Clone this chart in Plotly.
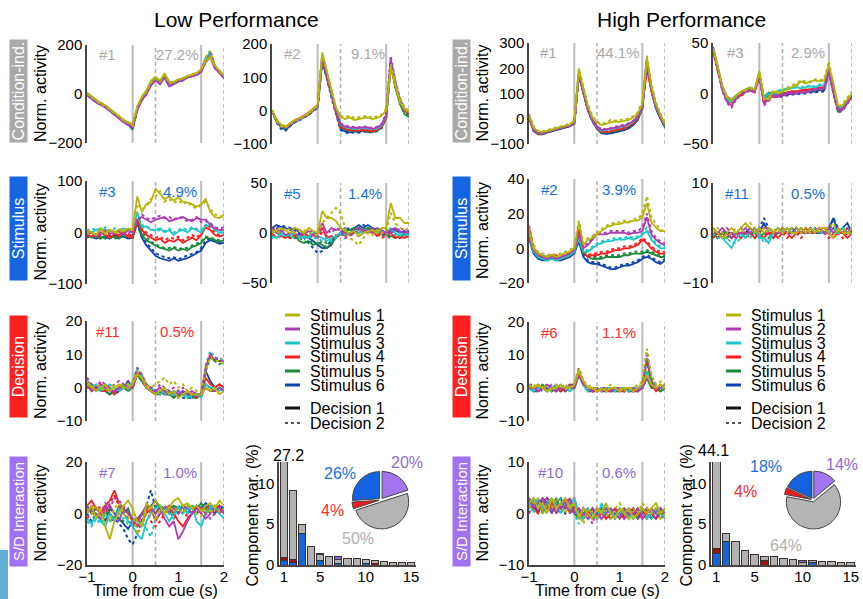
import plotly.graph_objects as go

W, H = 863, 599
FONT = "Liberation Sans, Arial, sans-serif"

# ---------------- data ----------------
TIME = [-1.0, -0.9, -0.8, -0.7, -0.6, -0.5, -0.4, -0.3, -0.2, -0.1, 0.0,
        0.1, 0.2, 0.3, 0.4, 0.5, 0.6, 0.7, 0.8, 0.9, 1.0,
        1.1, 1.2, 1.3, 1.4, 1.5, 1.6, 1.7, 1.8, 1.9, 2.0]
STIM_NAMES = ["Stimulus 1", "Stimulus 2", "Stimulus 3", "Stimulus 4", "Stimulus 5", "Stimulus 6"]
DEC_NAMES = ["Decision 1", "Decision 2"]
# each panel: rows = S1D1, S1D2, S2D1, S2D2, ... S6D1, S6D2

LP_COND_1 = [
 [5,-10,-25,-38,-45,-60,-78,-90,-105,-118,-125,-50,-10,15,55,70,55,85,50,50,60,62,72,78,85,100,135,150,115,95,75],
 [0,-12,-28,-42,-52,-62,-82,-92,-108,-115,-128,-55,-15,10,45,62,50,78,45,48,58,65,75,80,88,98,150,175,120,90,72],
 [-5,-20,-35,-45,-55,-70,-85,-100,-115,-125,-135,-65,-25,0,35,55,40,65,30,40,50,55,68,72,78,90,130,150,105,85,65],
 [0,-18,-32,-40,-48,-68,-78,-98,-112,-122,-140,-62,-22,2,38,58,42,70,35,42,52,58,70,74,82,96,145,170,112,88,68],
 [2,-15,-30,-42,-50,-63,-80,-96,-110,-122,-132,-58,-18,8,42,60,46,72,42,46,56,60,70,76,80,94,142,165,110,90,70],
 [-2,-16,-28,-38,-52,-66,-82,-94,-112,-120,-130,-62,-20,4,40,58,44,74,38,44,54,62,72,75,82,96,148,178,115,92,72],
 [0,-14,-30,-40,-50,-64,-80,-95,-108,-118,-128,-60,-20,6,38,58,46,72,40,44,56,60,70,74,80,94,138,158,108,88,68],
 [3,-12,-27,-41,-53,-65,-79,-93,-110,-121,-131,-63,-23,3,41,61,47,76,41,46,57,61,71,76,81,97,141,162,111,89,71],
 [-3,-17,-33,-43,-51,-67,-83,-97,-113,-125,-145,-66,-24,1,37,57,43,71,37,43,53,57,69,73,79,93,137,157,107,87,67],
 [1,-16,-31,-39,-49,-66,-81,-99,-111,-123,-138,-61,-21,3,39,59,45,73,39,45,55,59,71,75,83,95,143,167,113,91,69],
 [4,-10,-28,-36,-48,-62,-76,-92,-106,-116,-126,-56,-16,9,43,63,48,77,43,47,58,63,73,77,84,98,144,164,114,94,74],
 [-4,-19,-34,-44,-54,-69,-84,-99,-114,-126,-136,-64,-24,-1,36,56,42,69,36,42,52,56,67,71,77,91,136,156,106,86,66],
]
LP_COND_2 = [
 [0,-28,-42,-48,-38,-28,-22,-15,-8,5,18,175,120,60,10,-20,-25,-20,-28,-25,-22,-20,-25,-22,-15,0,130,75,25,5,-5],
 [2,-32,-48,-52,-40,-30,-26,-17,-10,3,15,170,118,58,8,-15,-20,-15,-22,-20,-18,-15,-22,-18,-12,5,140,85,35,10,0],
 [0,-30,-45,-50,-42,-32,-25,-18,-12,2,12,160,108,48,-2,-40,-48,-50,-52,-52,-50,-50,-55,-50,-42,-12,155,85,32,5,-8],
 [-2,-28,-46,-52,-40,-30,-24,-16,-10,4,14,162,110,50,0,-38,-45,-48,-50,-50,-48,-48,-52,-48,-40,-8,165,90,38,8,-5],
 [0,-30,-44,-50,-40,-31,-26,-19,-11,1,12,165,112,50,0,-42,-50,-52,-55,-54,-52,-53,-56,-54,-45,-14,148,80,30,4,-6],
 [1,-31,-45,-49,-41,-29,-25,-17,-9,3,14,168,115,52,2,-40,-48,-50,-53,-52,-50,-52,-55,-52,-43,-12,152,82,32,6,-4],
 [2,-28,-44,-48,-38,-28,-22,-14,-6,6,16,160,105,45,-5,-48,-55,-58,-60,-60,-58,-60,-62,-58,-50,-18,140,75,28,0,-10],
 [0,-30,-46,-50,-40,-30,-24,-16,-8,4,14,163,108,48,-3,-45,-52,-55,-58,-57,-55,-58,-60,-56,-48,-15,145,78,30,2,-8],
 [0,-32,-47,-51,-42,-32,-27,-20,-12,0,10,158,105,46,-4,-50,-58,-60,-62,-62,-58,-62,-64,-60,-50,-20,135,70,20,-10,-20],
 [-1,-31,-46,-50,-41,-31,-26,-19,-11,1,12,160,107,47,-2,-48,-56,-58,-60,-60,-57,-60,-62,-58,-48,-18,140,72,24,-6,-15],
 [0,-33,-50,-58,-45,-34,-28,-20,-12,0,10,150,100,42,-6,-55,-62,-65,-62,-65,-60,-64,-62,-60,-50,-20,145,80,30,0,-10],
 [-2,-35,-55,-60,-46,-35,-29,-21,-13,-1,8,145,98,40,-8,-58,-65,-68,-65,-66,-62,-66,-64,-62,-52,-22,150,85,35,2,-8],
]
LP_STIM_3 = [
 [5,0,-5,8,-3,5,0,6,2,8,5,70,40,55,60,85,75,65,70,62,68,60,58,55,50,55,65,40,30,28,35],
 [0,-5,3,-2,6,0,5,-3,8,2,10,55,45,50,65,70,80,60,65,58,62,55,60,50,48,52,60,45,35,32,30],
 [-5,0,-8,-3,5,-2,0,3,-5,5,0,25,30,25,20,25,28,30,22,25,28,30,25,22,28,25,25,15,8,5,5],
 [0,-3,-5,2,-4,3,-2,0,5,-3,5,20,35,28,25,30,32,28,30,25,30,28,22,25,30,20,22,18,10,8,10],
 [5,0,5,8,3,5,0,5,8,5,0,40,10,12,5,5,8,0,5,-5,2,5,0,8,5,0,12,15,5,0,0],
 [3,8,5,5,10,2,8,5,3,8,5,35,15,10,8,2,5,3,8,0,5,8,5,10,8,5,15,18,8,5,2],
 [-5,-8,-3,0,-5,-10,-3,-5,0,-8,-10,25,5,-5,-10,-15,-12,-20,-15,-18,-12,-20,-15,-10,-15,-5,10,5,-5,-8,-5],
 [0,-3,-8,-5,2,-5,0,-8,-3,-5,-5,20,8,0,-5,-10,-8,-15,-10,-12,-8,-15,-10,-5,-10,0,15,10,0,-5,0],
 [-5,-10,-8,-12,-5,-10,-8,-12,-5,-8,-10,25,-5,-15,-20,-25,-30,-32,-35,-30,-35,-32,-35,-28,-25,-20,-10,-12,-15,-18,-15],
 [-8,-5,-10,-8,-12,-5,-10,-8,-10,-5,-8,20,0,-10,-18,-22,-28,-30,-30,-28,-32,-30,-30,-25,-22,-18,-8,-10,-12,-15,-12],
 [-5,-8,-12,-10,-8,-12,-5,-10,-8,-12,-10,20,-10,-25,-35,-45,-50,-52,-55,-50,-55,-52,-50,-45,-40,-35,-20,-15,-18,-22,-20],
 [-10,-5,-8,-12,-10,-8,-12,-8,-5,-10,-5,15,-8,-20,-30,-40,-45,-48,-50,-48,-52,-48,-45,-42,-38,-30,-15,-12,-15,-18,-22],
]
LP_STIM_5 = [
 [0,3,5,2,0,5,3,0,5,2,0,22,15,15,12,5,2,0,2,-3,0,2,3,0,5,5,30,15,15,10,10],
 [3,0,2,5,3,0,2,3,0,0,-3,10,15,20,25,20,5,-5,-8,-12,-5,0,-2,3,0,2,20,10,5,3,5],
 [5,0,3,-2,0,5,3,0,2,-3,0,10,0,5,3,5,0,-2,3,5,2,3,0,5,3,0,3,5,2,0,3],
 [0,5,2,3,5,0,-3,2,0,3,-5,5,3,0,5,2,-5,-3,0,2,3,0,5,2,0,3,0,2,5,3,0],
 [-3,-5,0,-3,-2,0,-5,-3,-5,0,-3,-5,-8,-5,-3,0,-2,0,3,0,2,3,0,3,2,0,5,0,-3,0,-2],
 [-5,-3,-5,0,-3,-5,-3,-5,-3,-5,-5,-8,-5,-8,-5,-2,0,-3,0,2,0,2,3,0,3,-2,3,-2,0,-3,0],
 [0,-5,-3,-5,0,-3,-5,0,-3,-2,0,5,-5,-3,-5,0,-3,0,2,0,3,0,2,-3,0,-2,0,-5,-3,-5,-3],
 [-3,-2,-5,-3,-5,-2,-3,-5,-2,-5,-3,0,-3,-5,-2,-3,0,-2,0,-3,0,3,0,0,-5,-3,-2,-3,-5,-3,-2],
 [0,3,0,-3,-5,-3,-8,-10,-8,-12,-10,-12,-15,-10,-5,0,2,3,5,3,5,3,5,2,0,-2,-3,-5,-3,-2,0],
 [2,0,-2,-5,-3,-5,-5,-8,-10,-8,-12,-8,-10,-8,-3,-2,0,2,3,5,2,5,3,3,-2,-3,-5,-3,-5,-3,-2],
 [5,8,6,5,3,5,0,-3,-5,-8,-12,-15,-15,-12,-3,0,5,3,5,8,5,8,5,3,2,0,2,3,0,2,0],
 [3,5,8,6,5,3,-2,-5,-10,-15,-20,-18,-12,-8,-3,-2,3,5,3,5,8,5,3,5,0,-2,3,5,2,0,2],
]
LP_DEC_11 = [
 [2,0,-1,0,1,-1,0,1,0,0,1,4,3,0,-1,-2,-1,0,-2,-1,-3,-2,-1,-2,-2,-2,0,-1,0,-2,-1],
 [1,0,1,0,-1,0,1,0,1,1,2,5,3,1,0,1,2,3,1,2,0,1,-1,0,-1,-1,5,9,8,8,7],
 [1,-1,0,1,0,-1,-1,0,1,0,0,5,3,0,-1,-1,0,-1,-2,-1,-2,-1,-2,-1,-2,-2,0,-1,-1,0,-1],
 [3,1,0,2,1,0,1,2,1,2,1,6,4,1,0,-1,1,0,-1,0,-1,0,-2,-1,-2,-2,6,10,9,8,8],
 [2,0,1,-1,0,1,0,-1,0,1,1,5,4,1,0,-1,-2,-1,-2,-2,-1,-2,-3,-2,-2,-3,1,0,0,-1,0],
 [1,1,-1,0,1,0,-1,0,1,0,2,6,3,0,-1,-1,0,-2,-1,-2,-1,-2,-2,-3,-2,-2,7,11,9,9,8],
 [2,-1,0,-1,-1,0,-2,0,1,0,1,5,3,0,-1,-2,-1,-2,-1,-2,-2,-1,-2,-2,-3,-2,3,1,0,1,0],
 [0,0,-1,1,0,-1,0,-1,0,1,0,4,3,1,0,-1,-1,-1,-2,-1,-2,-2,-1,-2,-2,-2,6,10,8,9,8],
 [1,-1,0,0,-1,-2,-1,0,0,-1,0,4,2,0,-1,-2,-2,-1,-2,-3,-2,-2,-2,-3,-3,-2,1,0,-1,0,-1],
 [2,0,0,-1,0,-1,-1,0,1,0,1,5,3,0,-1,-2,-1,-2,-2,-2,-3,-2,-3,-2,-3,-2,5,9,8,7,8],
 [1,0,-1,0,-1,-2,-1,-1,0,2,0,4,2,0,-1,-2,-1,-2,-2,-2,-2,-1,-2,-3,-2,-2,5,2,0,1,0],
 [2,1,0,-1,0,-1,-2,-1,0,0,1,5,3,0,-1,-1,-2,-1,-2,-3,-2,-3,-3,-3,-3,-2,6,10,8,8,8],
]
LP_SD_7 = [
 [0,3,-2,2,-5,-10,-3,0,3,5,2,-3,-5,4,2,5,3,0,2,5,6,3,4,2,3,1,3,4,2,5,3],
 [2,0,3,-2,0,-3,2,4,0,-2,0,-8,-5,0,3,-3,2,0,3,1,2,0,3,2,0,-1,2,0,3,1,2],
 [3,1,0,-2,2,3,0,-3,2,0,-2,-5,0,2,3,0,2,-2,-5,-3,-10,-7,-3,0,2,0,-2,0,3,2,0],
 [1,3,2,0,4,2,6,5,3,0,-2,-3,0,3,2,-2,0,3,1,2,0,3,2,0,1,3,0,-2,0,2,1],
 [-2,-4,0,-3,-5,0,-3,2,0,-3,-5,-8,-10,-3,0,2,3,0,-3,0,2,3,0,3,-3,-5,0,2,3,0,-2],
 [-3,-5,-2,-4,0,-3,-2,0,-2,-4,-3,-5,-3,-6,-9,-2,0,2,0,-2,3,0,2,0,2,3,0,3,2,0,1],
 [3,5,2,0,3,5,9,4,2,0,-3,-5,-3,0,2,-3,0,2,3,0,-3,-5,-2,0,3,2,0,3,2,0,2],
 [-2,0,3,2,0,4,7,3,0,-2,-5,-3,0,2,-3,-5,-3,0,2,-2,0,3,-2,0,2,0,3,2,0,3,0],
 [0,2,-2,0,3,0,-2,3,0,2,-3,-2,0,3,2,0,3,2,0,3,2,3,0,3,2,4,2,0,3,2,0],
 [2,0,3,-2,0,2,0,-2,-3,0,-2,-3,0,2,0,3,2,0,2,0,3,2,0,2,3,2,0,3,2,0,2],
 [3,0,2,0,-3,2,0,-2,-4,-6,-3,-5,-3,0,3,5,2,0,3,2,0,3,2,0,3,2,4,2,0,3,2],
 [0,-3,0,-2,0,-3,-2,-4,-6,-10,-12,-8,-3,3,9,2,0,2,0,3,2,0,3,2,0,2,3,0,2,3,0],
]
HP_COND_1 = [
 [15,-35,-50,-52,-48,-42,-38,-32,-28,-22,-10,195,120,50,5,-15,-25,-20,-15,-10,-12,-8,-5,5,20,60,240,130,60,15,-20],
 [20,-30,-48,-50,-45,-40,-35,-30,-25,-20,-8,200,125,55,10,-10,-20,-15,-5,-8,-5,-2,0,10,25,70,250,140,65,20,-15],
 [10,-40,-55,-55,-50,-45,-40,-35,-30,-25,-15,185,110,40,-5,-30,-45,-42,-40,-35,-30,-28,-20,-10,10,55,235,120,50,10,-25],
 [12,-38,-52,-56,-48,-44,-38,-34,-28,-24,-14,188,112,42,-3,-28,-42,-40,-38,-32,-28,-25,-18,-8,12,58,238,125,52,12,-22],
 [8,-42,-56,-58,-50,-46,-42,-36,-30,-25,-16,182,108,38,-6,-32,-48,-45,-42,-38,-34,-30,-24,-12,8,52,232,118,48,8,-28],
 [10,-40,-54,-55,-52,-45,-40,-35,-32,-26,-15,186,112,40,-4,-30,-46,-44,-40,-36,-32,-28,-22,-10,10,55,236,122,50,10,-26],
 [5,-45,-60,-60,-52,-48,-42,-38,-32,-28,-18,175,105,35,-8,-35,-52,-52,-50,-45,-42,-38,-30,-18,2,45,195,110,45,5,-30],
 [8,-42,-58,-58,-50,-46,-40,-36,-30,-26,-16,180,108,38,-6,-33,-50,-50,-48,-43,-40,-35,-28,-15,5,48,210,115,48,8,-28],
 [6,-44,-58,-60,-53,-48,-43,-38,-33,-27,-18,178,105,36,-8,-36,-55,-55,-52,-48,-45,-40,-32,-20,0,45,225,115,45,5,-32],
 [8,-43,-57,-58,-52,-47,-42,-37,-32,-26,-17,180,107,37,-7,-34,-53,-53,-50,-46,-43,-38,-30,-18,2,47,228,118,47,7,-30],
 [4,-48,-62,-62,-55,-50,-45,-40,-35,-30,-20,172,100,32,-10,-40,-58,-60,-58,-55,-50,-45,-38,-25,-5,40,220,110,40,0,-35],
 [5,-46,-60,-60,-54,-49,-44,-39,-34,-28,-19,175,102,34,-9,-38,-56,-58,-56,-52,-48,-42,-35,-22,-2,42,222,112,42,2,-33],
]
HP_COND_3 = [
 [45,28,8,-3,-6,-2,2,4,6,4,22,-5,-6,2,0,2,4,6,8,12,10,12,13,12,13,28,10,-12,-12,-6,0],
 [44,26,6,-4,-7,-3,1,3,5,3,20,-6,-4,3,2,4,6,8,10,13,12,11,14,13,14,32,8,-14,-10,-4,2],
 [43,24,4,-8,-12,-5,0,2,4,2,18,-10,-6,-2,-2,-1,0,1,0,2,1,3,4,5,5,24,2,-16,-15,-8,-2],
 [42,23,3,-9,-14,-6,-1,1,3,1,17,-12,-7,-3,-3,-2,-1,0,1,1,2,2,3,4,4,22,0,-18,-17,-10,-3],
 [45,25,5,-5,-8,-3,0,3,5,3,20,-6,0,-1,2,3,4,5,6,5,6,7,6,8,8,26,3,-14,-12,-6,0],
 [44,24,4,-6,-9,-4,-1,2,4,2,19,-7,-1,-2,3,4,5,6,8,6,7,8,7,9,9,25,2,-15,-13,-7,-1],
 [45,25,5,-6,-9,-4,-2,2,4,2,18,-8,-2,-3,-2,-1,1,2,2,3,4,4,5,6,6,24,1,-16,-14,-8,-2],
 [44,24,4,-7,-10,-5,-3,1,3,1,17,-9,-3,-4,-3,-2,0,1,1,2,3,3,4,5,5,23,0,-17,-15,-9,-3],
 [45,26,6,-4,-7,-2,1,4,6,4,21,-4,1,0,-1,0,1,2,2,3,3,4,4,5,5,25,3,-18,-16,-9,-2],
 [44,25,5,-5,-8,-3,0,3,5,3,20,-5,0,-1,-2,-1,0,1,1,2,2,3,3,4,4,24,2,-19,-17,-10,-3],
 [46,27,7,-3,-6,-2,1,3,4,3,19,-6,-1,-2,-3,-2,-1,0,0,1,1,2,2,3,3,23,1,-17,-15,-8,-1],
 [45,26,6,-4,-7,-3,0,2,3,2,18,-7,-2,-3,-4,-3,-2,-1,-1,0,0,1,1,2,2,22,0,-18,-16,-9,-2],
]
HP_STIM_2 = [
 [10,0,-3,-4,-5,-4,-5,-4,-3,-2,0,15,2,5,6,8,10,12,13,14,14,15,15,16,16,18,26,15,12,10,10],
 [12,2,-2,-3,-4,-3,-4,-3,-2,-1,1,16,3,6,7,9,11,13,14,15,15,16,15,17,17,20,30,18,14,11,9],
 [8,-1,-4,-5,-6,-5,-6,-5,-4,-3,-1,8,0,2,5,8,8,8,9,9,9,9,8,9,9,10,18,8,5,3,2],
 [9,0,-3,-4,-5,-4,-5,-4,-3,-2,0,9,1,3,6,9,9,9,10,10,10,10,9,10,10,12,20,10,6,4,3],
 [8,-2,-5,-6,-7,-6,-7,-6,-5,-4,-2,6,-2,-2,0,2,3,4,4,5,5,5,6,5,6,8,10,5,2,0,0],
 [9,-1,-4,-5,-6,-5,-6,-5,-4,-3,-1,7,-1,-1,1,3,4,5,5,6,6,6,7,6,7,9,12,6,3,1,1],
 [12,0,-5,-6,-6,-5,-5,-6,-5,-4,-2,10,-2,-5,-4,-4,-3,-3,-2,-1,-1,0,0,1,2,5,3,0,-2,-3,-3],
 [13,1,-4,-5,-5,-4,-4,-5,-4,-3,-1,11,-1,-4,-3,-3,-2,-2,-1,0,0,1,1,2,3,6,4,1,-1,-2,-2],
 [8,-2,-4,-5,-6,-5,-6,-6,-5,-4,-2,5,-3,-5,-6,-6,-6,-5,-5,-5,-5,-4,-4,-3,-3,-3,-2,-3,-4,-5,-5],
 [9,-1,-3,-4,-5,-4,-5,-5,-4,-3,-1,6,-2,-4,-5,-5,-5,-4,-4,-4,-4,-3,-3,-2,-2,-2,-1,-2,-3,-4,-4],
 [6,-3,-6,-7,-7,-6,-7,-7,-6,-5,-3,4,-5,-8,-9,-9,-10,-11,-12,-12,-11,-10,-10,-9,-8,-6,-5,-6,-8,-9,-7],
 [7,-2,-5,-6,-6,-5,-6,-6,-5,-4,-2,5,-4,-7,-8,-8,-9,-10,-11,-11,-10,-9,-9,-8,-7,-5,-4,-5,-7,-8,-6],
]
HP_STIM_11 = [
 [1,0,-1,0,1,0,1,2,1,0,1,0,1,0,1,0,1,0,0,1,0,1,0,1,1,0,-1,1,0,0,1],
 [0,1,0,-1,0,1,0,1,2,1,0,1,0,1,0,1,0,1,1,0,1,0,1,0,1,1,2,0,1,0,0],
 [0,0,1,0,-1,0,0,1,0,1,0,1,1,0,0,1,0,0,1,0,0,1,0,1,0,1,0,1,0,1,0],
 [1,0,0,1,0,-1,1,0,1,0,1,0,0,1,0,0,1,0,0,1,0,0,1,0,1,0,1,0,1,0,1],
 [1,0,-1,-2,-3,-1,0,-1,0,1,-1,-1,-2,0,0,1,0,0,1,0,0,0,1,0,0,1,0,0,1,0,0],
 [0,-1,-1,-1,-2,-2,-1,0,-1,0,0,-2,-1,0,1,0,0,1,0,1,0,1,0,1,0,0,1,0,0,1,0],
 [-1,0,-1,0,-1,0,-1,0,0,-1,0,-1,0,0,-1,0,0,-1,0,0,1,0,0,1,0,0,-1,0,0,-1,0],
 [0,-1,0,-1,0,-1,0,0,-1,0,-1,0,0,-1,0,0,-1,0,0,-1,0,0,1,0,0,-1,0,0,-1,0,0],
 [0,-1,0,0,-1,0,0,-1,0,0,-1,0,0,-1,0,0,1,0,0,1,0,0,0,1,0,0,1,0,0,0,1],
 [-1,0,0,-1,0,0,-1,0,0,-1,0,0,-1,0,0,1,0,0,1,0,0,1,0,0,0,1,0,0,1,0,0],
 [0,0,-1,0,0,-1,0,0,1,0,0,2,0,0,1,0,0,1,0,0,0,1,0,0,0,1,3,0,1,2,0],
 [0,-1,0,0,-1,0,0,0,1,0,1,3,1,0,0,1,0,0,1,0,1,0,0,1,0,0,3,1,0,1,0],
]
HP_DEC_6 = [
 [1,0,1,0,-1,0,0,1,0,0,1,5,2,0,0,-1,0,-1,0,0,-1,0,0,-1,0,1,4,1,0,1,0],
 [0,1,0,1,0,-1,1,0,1,0,1,6,2,1,0,0,-1,0,1,0,0,-1,0,0,1,2,12,4,1,2,1],
 [0,0,-1,0,1,0,-1,0,0,1,0,4,1,0,-1,0,-1,0,-1,0,0,-1,0,0,-1,0,3,1,0,0,1],
 [1,0,0,-1,0,1,0,0,-1,0,1,5,2,0,0,-1,0,0,-1,0,-1,0,0,-1,0,1,10,3,1,1,0],
 [0,-1,0,0,-1,0,1,0,0,-1,0,4,1,-1,0,0,-1,0,0,-1,0,0,-1,0,0,0,5,1,0,0,0],
 [1,0,-1,0,0,-1,0,1,0,0,1,5,1,0,-1,0,0,-1,0,0,-1,0,0,-1,0,1,11,3,1,0,1],
 [0,0,1,0,-1,0,0,-1,0,1,0,5,1,0,0,-1,0,-1,-1,0,-1,-1,0,-1,-1,0,4,1,-1,0,0],
 [1,1,0,0,-1,0,0,0,1,0,1,6,2,0,-1,-1,0,-1,0,-1,0,-1,-1,0,0,1,9,2,0,1,1],
 [0,-1,0,1,0,-1,0,0,-1,0,0,4,1,0,-1,0,-1,0,-1,-1,0,-1,0,-1,0,0,3,0,0,-1,0],
 [0,0,-1,0,1,0,-1,0,0,0,1,5,2,0,0,-1,0,-1,0,0,-1,0,-1,0,-1,1,8,2,0,0,1],
 [0,-1,-1,0,0,-1,0,-1,0,0,0,4,1,-1,-1,0,-1,-1,0,-1,-1,0,-1,-1,0,0,5,1,0,-1,0],
 [1,0,0,-1,0,0,-1,0,0,1,1,5,1,0,-1,-1,0,0,-1,0,0,-1,0,0,-1,1,9,2,1,0,0],
]
HP_SD_10 = [
 [2,3,1,2,0,3,1,2,3,1,2,-1,1,0,-1,1,0,2,0,-1,1,0,1,-1,0,1,0,1,2,0,1],
 [1,2,3,0,2,1,3,2,0,2,1,0,-2,1,0,-1,1,0,-1,1,2,0,-1,1,0,2,1,0,1,-1,0],
 [3,1,2,3,1,2,0,2,1,3,0,1,0,-1,1,0,-1,0,1,0,-1,1,0,0,1,-1,0,1,0,1,0],
 [0,2,1,2,3,0,2,1,2,0,2,-1,1,0,-2,1,0,1,0,1,0,-1,1,0,-1,0,1,0,-1,0,1],
 [1,3,2,1,2,3,2,0,2,1,3,0,-1,1,0,-1,2,0,1,-1,0,1,-1,0,1,0,-1,0,1,0,-1],
 [2,0,3,1,0,2,1,3,1,2,0,-2,0,-1,1,0,-1,1,0,0,1,0,1,-1,0,1,0,-1,0,1,0],
 [3,1,0,2,3,1,2,1,3,0,1,1,-1,0,1,-1,0,-1,0,1,0,-1,0,1,0,-1,1,0,-1,0,1],
 [1,2,1,3,1,2,0,2,1,2,3,0,1,-1,0,1,-1,0,-1,0,1,0,-1,0,1,0,-1,1,0,-1,0],
 [2,1,3,0,2,1,3,1,2,1,0,-1,0,1,-1,0,1,-1,0,1,-1,0,1,0,-1,1,0,-1,1,0,-1],
 [0,3,1,2,1,3,1,0,2,3,1,0,-1,0,1,0,-1,0,1,-1,0,1,0,-1,0,1,-1,0,1,0,0],
 [1,2,0,3,2,0,2,3,1,2,1,-1,1,0,-1,0,1,0,-1,0,1,-1,0,1,-1,0,1,0,-1,1,0],
 [3,1,2,1,3,2,1,2,0,1,2,0,-1,1,0,-1,0,1,0,-1,0,1,-1,0,0,1,0,-1,0,1,-1],
]

COMPONENTS = [1, 2, 3, 4, 5, 6, 7, 8, 9, 10, 11, 12, 13, 14, 15]
LP_BAR_STIM = [0.6, 0.35, 3.9, 0, 0.6, 0, 0.15, 0, 0, 0.2, 0, 0, 0, 0, 0]
LP_BAR_DEC = [0.3, 0.35, 0, 0, 0, 0, 0, 0, 0, 0, 0.2, 0, 0, 0, 0]
LP_BAR_COND = [26.3, 8.4, 1.0, 2.25, 0.7, 1.0, 0.55, 0.8, 0.75, 0.5, 0.3, 0.4, 0.35, 0.3, 0.28]
LP_BAR_SD = [0, 0, 0, 0, 0.1, 0, 0.3, 0, 0, 0, 0, 0, 0, 0, 0]
HP_BAR_STIM = [1.4, 2.9, 0, 0, 0, 0, 0, 0, 0, 0, 0.3, 0, 0, 0, 0]
HP_BAR_DEC = [0.6, 0, 0, 0, 0, 0.6, 0, 0, 0, 0, 0, 0, 0, 0, 0]
HP_BAR_COND = [42.1, 1.0, 2.9, 1.8, 1.3, 0.5, 1.0, 0.8, 0.7, 0.3, 0.2, 0.45, 0.4, 0.35, 0.3]
HP_BAR_SD = [0, 0, 0, 0, 0, 0, 0, 0, 0, 0.3, 0, 0, 0, 0, 0]
PIE_LABELS = ["S/D interaction", "Condition-ind.", "Decision", "Stimulus"]
LP_PIE = [20, 50, 4, 26]
HP_PIE = [14, 64, 4, 18]

# ---------------- styling ----------------
STIM_COLORS = ["#b5b50a", "#b03cb4", "#1ec8c8", "#ff1e1e", "#1a8a3a", "#1045b0"]
C_COND, C_STIM, C_DEC, C_SD = "#a8a8a8", "#1a6fe0", "#ff2a2a", "#8e6bd0"
BOX_COLORS = {"cond": "#a9a9a9", "stim": "#1565e0", "dec": "#ff2020", "sd": "#9f72f2"}
PIE_COLORS = ["#a474f0", "#b4b4b4", "#ee1c1c", "#1462e0"]
BAR_COLORS = {"stim": "#1565d8", "dec": "#9a1414", "cond": "#b3b3b3", "sd": "#8b6ad8"}


def axnames(k):
    s = "" if k == 1 else str(k)
    return "x" + s, "y" + s, "xaxis" + s, "yaxis" + s


def px_x(p):
    return p / W


def px_y(p):
    return 1 - p / H


fig = go.Figure()
layout = {}
shapes = []
ann = []


def text(x, y, t, size=15, color="black", xanchor="center", angle=0, **kw):
    ann.append(dict(x=px_x(x), y=px_y(y), xref="paper", yref="paper", text=t, showarrow=False,
                    xanchor=xanchor, yanchor="middle", textangle=angle,
                    font=dict(family=FONT, size=size, color=color), **kw))


panels = [
    dict(data=LP_COND_1, box=(87, 224, 45, 143), yr=[-200, 200], yt=[-200, 0, 200], num="#1", pct="27.2%", col=C_COND, ylab=True, xshow=False, nx=0.15, px=0.66),
    dict(data=LP_COND_2, box=(272, 409, 44, 144), yr=[-100, 200], yt=[-100, 0, 100, 200], num="#2", pct="9.1%", col=C_COND, ylab=False, xshow=False, nx=0.15, px=0.7),
    dict(data=LP_STIM_3, box=(87, 224, 181, 284), yr=[-100, 100], yt=[-100, 0, 100], num="#3", pct="4.9%", col=C_STIM, ylab=True, xshow=False, nx=0.15, px=0.68),
    dict(data=LP_STIM_5, box=(272, 409, 183, 283), yr=[-50, 50], yt=[-50, 0, 50], num="#5", pct="1.4%", col=C_STIM, ylab=False, xshow=False, nx=0.15, px=0.68),
    dict(data=LP_DEC_11, box=(87, 224, 321, 421), yr=[-10, 20], yt=[-10, 0, 10, 20], num="#11", pct="0.5%", col=C_DEC, ylab=True, xshow=False, nx=0.15, px=0.66),
    dict(data=LP_SD_7, box=(87, 224, 462, 565), yr=[-20, 20], yt=[-20, 0, 20], num="#7", pct="1.0%", col=C_SD, ylab=True, xshow=True, nx=0.15, px=0.68),
    dict(data=HP_COND_1, box=(529, 665, 43, 144), yr=[-100, 300], yt=[-100, 0, 100, 200, 300], num="#1", pct="44.1%", col=C_COND, ylab=True, xshow=False, nx=0.14, px=0.66),
    dict(data=HP_COND_3, box=(713, 852, 43, 144), yr=[-50, 50], yt=[-50, 0, 50], num="#3", pct="2.9%", col=C_COND, ylab=False, xshow=False, nx=0.16, px=0.68),
    dict(data=HP_STIM_2, box=(529, 665, 179, 283), yr=[-20, 40], yt=[-20, 0, 20, 40], num="#2", pct="3.9%", col=C_STIM, ylab=True, xshow=False, nx=0.15, px=0.66),
    dict(data=HP_STIM_11, box=(713, 852, 183, 283), yr=[-10, 10], yt=[-10, 0, 10], num="#11", pct="0.5%", col=C_STIM, ylab=False, xshow=False, nx=0.17, px=0.68),
    dict(data=HP_DEC_6, box=(529, 665, 322, 421), yr=[-10, 20], yt=[-10, 0, 10, 20], num="#6", pct="1.1%", col=C_DEC, ylab=True, xshow=False, nx=0.15, px=0.66),
    dict(data=HP_SD_10, box=(529, 665, 462, 565), yr=[-10, 10], yt=[-10, 0, 10], num="#10", pct="0.6%", col=C_SD, ylab=True, xshow=True, nx=0.16, px=0.66),
]

AXIS_COLOR = "#4a4444"
TICKFONT = dict(family=FONT, size=15, color="black")
k = 0
for p in panels:
    k += 1
    xr, yr, xk, yk = axnames(k)
    x0, x1, yt, yb = p["box"]
    layout[xk] = dict(domain=[px_x(x0), px_x(x1)], range=[-1, 2], anchor=yr, showgrid=False, zeroline=False,
                      showline=p["xshow"], linecolor=AXIS_COLOR, linewidth=1.5, ticks="", automargin=False,
                      showticklabels=p["xshow"], tickvals=[-1, 0, 1, 2], ticklabelstandoff=-3,
                      tickfont=TICKFONT, fixedrange=True)
    layout[yk] = dict(domain=[px_y(yb), px_y(yt)], range=p["yr"], anchor=xr, showgrid=False, zeroline=False,
                      showline=True, linecolor=AXIS_COLOR, linewidth=1.5, ticks="", tickvals=p["yt"],
                      automargin=False, tickfont=TICKFONT, fixedrange=True)
    for t, solid in [(0, True), (0.5, False), (1.5, True), (2, False)]:
        shapes.append(dict(type="line", xref=xr, yref=yr + " domain", x0=t, x1=t, y0=0, y1=1, layer="below",
                           line=dict(color="#bcbcbc" if solid else "#b0b0b0", width=2 if solid else 1.5,
                                     dash="solid" if solid else "4px,3px")))
    for s in reversed(range(6)):
        for d in (1, 0):
            fig.add_trace(go.Scatter(x=TIME, y=p["data"][2 * s + d], xaxis=xr, yaxis=yr, mode="lines",
                                     line=dict(color=STIM_COLORS[s], width=1.8 if d == 0 else 2,
                                               dash="solid" if d == 0 else "dot"),
                                     showlegend=False, hoverinfo="skip", name=STIM_NAMES[s] + ", " + DEC_NAMES[d]))
    ytxt = yt + 10
    text(x0 + p["nx"] * (x1 - x0), ytxt, p["num"], size=15, color=p["col"])
    text(x0 + p["px"] * (x1 - x0), ytxt, p["pct"], size=15, color=p["col"])
    if p["ylab"]:
        text(x0 - 47, (yt + yb) / 2, "Norm. activity", size=16, angle=-90)

# ---------------- bar charts ----------------
bars = [
    dict(vals=(LP_BAR_STIM, LP_BAR_DEC, LP_BAR_COND, LP_BAR_SD), box=(279, 416, 462, 565), top="27.2", topx=288, topy=455, labx=252),
    dict(vals=(HP_BAR_STIM, HP_BAR_DEC, HP_BAR_COND, HP_BAR_SD), box=(711, 856, 462, 565), top="44.1", topx=713, topy=450, labx=686),
]
for b in bars:
    k += 1
    xr, yr, xk, yk = axnames(k)
    x0, x1, yt, yb = b["box"]
    layout[xk] = dict(domain=[px_x(x0), px_x(x1)], range=[0.45, 15.55], anchor=yr, showgrid=False, zeroline=False,
                      showline=True, linecolor=AXIS_COLOR, linewidth=1.5, ticks="", tickvals=[1, 5, 10, 15],
                      ticklabelstandoff=-3, automargin=False, tickfont=TICKFONT, fixedrange=True)
    layout[yk] = dict(domain=[px_y(yb), px_y(yt)], range=[0, 12.6], anchor=xr, showgrid=False, zeroline=False,
                      showline=True, linecolor=AXIS_COLOR, linewidth=1.5, ticks="", tickvals=[0, 5, 10],
                      automargin=False, tickfont=TICKFONT, fixedrange=True)
    for vals, key in zip(b["vals"], ["stim", "dec", "cond", "sd"]):
        fig.add_trace(go.Bar(x=COMPONENTS, y=vals, xaxis=xr, yaxis=yr, width=0.78,
                             marker=dict(color=BAR_COLORS[key], line=dict(color="#3a3030", width=1)),
                             showlegend=False, hoverinfo="skip"))
    text(b["topx"], b["topy"], b["top"], size=16)
    text(b["labx"], (yt + yb) / 2 + 2, "Component var. (%)", size=16, angle=-90)

# ---------------- pies ----------------
pies = [
    dict(vals=LP_PIE, c=(381, 500), r=29,
         labels=[("20%", 407, 462, C_SD), ("26%", 340, 473, "#1a6fe0"), ("4%", 332, 510, C_DEC), ("50%", 358, 538, "#b0b0b0")]),
    dict(vals=HP_PIE, c=(813, 500), r=29,
         labels=[("14%", 842, 464, C_SD), ("18%", 766, 466, "#1a6fe0"), ("4%", 745, 491, C_DEC), ("64%", 786, 545, "#b0b0b0")]),
]
for pi in pies:
    cx, cy = pi["c"]
    r = pi["r"]
    fig.add_trace(go.Pie(values=pi["vals"], labels=PIE_LABELS, sort=False, direction="clockwise", rotation=0,
                         marker=dict(colors=PIE_COLORS, line=dict(color="#444444", width=1)),
                         pull=[0.07, 0.07, 0.07, 0.07], textinfo="none", showlegend=False, hoverinfo="skip",
                         domain=dict(x=[px_x(cx - r), px_x(cx + r)], y=[px_y(cy + r), px_y(cy - r)])))
    for t, x, y, c in pi["labels"]:
        text(x, y, t, size=16, color=c)

# ---------------- legends ----------------
LEG_Y = [315, 329, 343, 357, 371, 385]
for lx0 in (285, 726):
    for i, name in enumerate(STIM_NAMES):
        shapes.append(dict(type="line", xref="paper", yref="paper", x0=px_x(lx0), x1=px_x(lx0 + 15),
                           y0=px_y(LEG_Y[i]), y1=px_y(LEG_Y[i]), line=dict(color=STIM_COLORS[i], width=3)))
        text(lx0 + 23, LEG_Y[i], name, size=16, xanchor="left")
    for yy, name, dash, col in [(408, DEC_NAMES[0], "solid", "#111111"), (423, DEC_NAMES[1], "dot", "#555555")]:
        shapes.append(dict(type="line", xref="paper", yref="paper", x0=px_x(lx0), x1=px_x(lx0 + 15),
                           y0=px_y(yy), y1=px_y(yy), line=dict(color=col, width=3 if dash == "solid" else 2, dash=dash)))
        text(lx0 + 23, yy, name, size=16, xanchor="left")

# ---------------- titles, row labels ----------------
text(236, 20, "Low Performance", size=21)
text(681, 20, "High Performance", size=21)
text(155, 590, "Time from cue (s)", size=16)
text(597, 590, "Time from cue (s)", size=16)

rows = [("Condition-ind.", "cond", 91, 102, 16), ("Stimulus", "stim", 229, 103, 16),
        ("Decision", "dec", 367, 101, 16), ("S/D Interaction", "sd", 512, 109, 15)]
for bx in (18, 461):
    for label, key, cy, length, fs in rows:
        ann.append(dict(x=px_x(bx), y=px_y(cy), xref="paper", yref="paper", text=label, showarrow=False,
                        xanchor="center", yanchor="middle", textangle=-90, bgcolor=BOX_COLORS[key],
                        width=length, height=17, borderpad=0,
                        font=dict(family=FONT, size=fs, color="white")))

shapes.append(dict(type="rect", xref="paper", yref="paper", x0=0, x1=px_x(8), y0=0, y1=px_y(550),
                   line=dict(width=0), fillcolor="#62b0d8"))

fig.update_layout(width=W, height=H, margin=dict(l=0, r=0, t=0, b=0, pad=0, autoexpand=False),
                  paper_bgcolor="white", plot_bgcolor="white", showlegend=False, barmode="stack",
                  shapes=shapes, annotations=ann, font=dict(family=FONT), **layout)
fig.write_html("out.html", config={"displayModeBar": False},
               post_script="document.body.style.margin='0px';document.body.style.padding='0px';"
                           "document.body.style.overflow='hidden';")
